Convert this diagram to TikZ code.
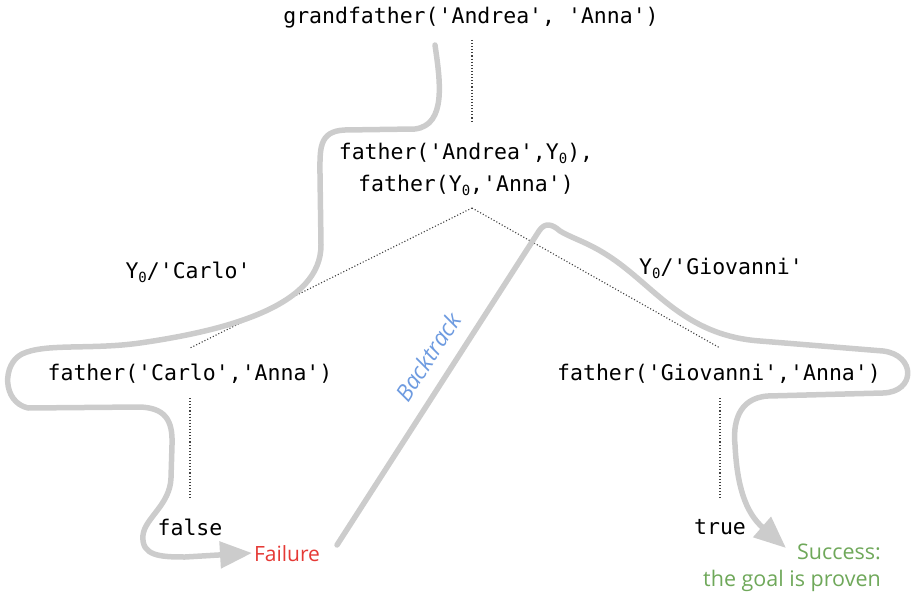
\documentclass[tikz,border=0pt]{standalone}
\usepackage{fontspec}
\setmainfont{Open Sans}
\setmonofont{DejaVu Sans Mono}
\usetikzlibrary{arrows.meta}
\definecolor{pathgray}{HTML}{CCCCCC}
\definecolor{failred}{HTML}{E53935}
\definecolor{succgreen}{HTML}{6FA85A}
\definecolor{btblue}{HTML}{6E9BE0}
\newcommand{\Yz}{Y\raisebox{-0.35ex}{\fontsize{14}{14}\selectfont 0}}
\tikzset{
  code/.style={font=\ttfamily\fontsize{21.5}{32}\selectfont, inner sep=0pt, align=center},
  note/.style={font=\fontsize{21}{27}\selectfont, inner sep=0pt},
  dotline/.style={dotted, line width=1.1pt, black!75},
  trail/.style={pathgray, line width=5.5pt, line cap=round, line join=round},
  trailarrow/.style={trail, -{Triangle[length=32pt,width=26pt]}},
}
\begin{document}
\begin{tikzpicture}[x=1pt,y=-1pt]
\useasboundingbox (0,0) rectangle (912,596);
% nodes
\node[code] (g) at (471,18) {grandfather('Andrea', 'Anna')};
\node[code] (f) at (466,169) {father('Andrea',\Yz),\\father(\Yz,'Anna')};
\node[code] (yc) at (188,272) {\Yz/'Carlo'};
\node[code] (yg) at (721,268) {\Yz/'Giovanni'};
\node[code] (c) at (190,374) {father('Carlo','Anna')};
\node[code] (gv) at (719,374) {father('Giovanni','Anna')};
\node[code] (fa) at (190,527) {false};
\node[code] (tr) at (720,527) {true};
\node[note, text=failred] (fail) at (287,554) {Failure};
\node[note, text=succgreen, align=right, anchor=east, font=\fontsize{21.5}{27}\selectfont] (succ) at (881,568) {Success:\\the goal is proven};
\node[note, text=btblue, font=\itshape\fontsize{23}{28}\selectfont, rotate=57] (bt) at (428,357) {Backtrack};
% dotted connectors
\coordinate (g1) at (472,40);
\coordinate (f1) at (472,122);
\coordinate (f2) at (472,208);
\coordinate (c1) at (190,348);
\coordinate (gv1) at (720,348);
\coordinate (c2) at (190,398);
\coordinate (fa1) at (190,500);
\coordinate (gv2) at (720,398);
\coordinate (tr1) at (720,500);
\draw[dotline] (g1) -- (f1);
\draw[dotline] (f2) -- (c1);
\draw[dotline] (f2) -- (gv1);
\draw[dotline] (c2) -- (fa1);
\draw[dotline] (gv2) -- (tr1);
% left trail
\coordinate (lstart) at (435,45);
\coordinate (lend) at (252,553);
\draw[trailarrow] (lstart) .. controls (440,80) and (447,125) .. (415,129)
  -- (345,130) .. controls (318,131) and (320,150) .. (320,175)
  -- (321,245) .. controls (321,305) and (230,330) .. (140,343)
  .. controls (90,350) and (45,343) .. (22,354)
  .. controls (2,364) and (2,402) .. (28,408)
  -- (140,407) .. controls (165,408) and (173,420) .. (172,445)
  -- (171,478) .. controls (170,505) and (145,518) .. (143,535)
  .. controls (141,556) and (160,557) .. (185,557) -- (lend);
% right trail
\coordinate (rstart) at (337,545);
\coordinate (rend) at (786,548);
\draw[trailarrow] (rstart) -- (539,231) .. controls (545,222) and (552,224) .. (560,231)
  .. controls (575,240) and (592,243) .. (620,264)
  .. controls (660,294) and (690,336) .. (760,341)
  -- (883,351) .. controls (916,355) and (916,392) .. (883,393)
  -- (768,396) .. controls (737,398) and (733,425) .. (735,445)
  .. controls (737,485) and (745,512) .. (rend);
\end{tikzpicture}
\end{document}
